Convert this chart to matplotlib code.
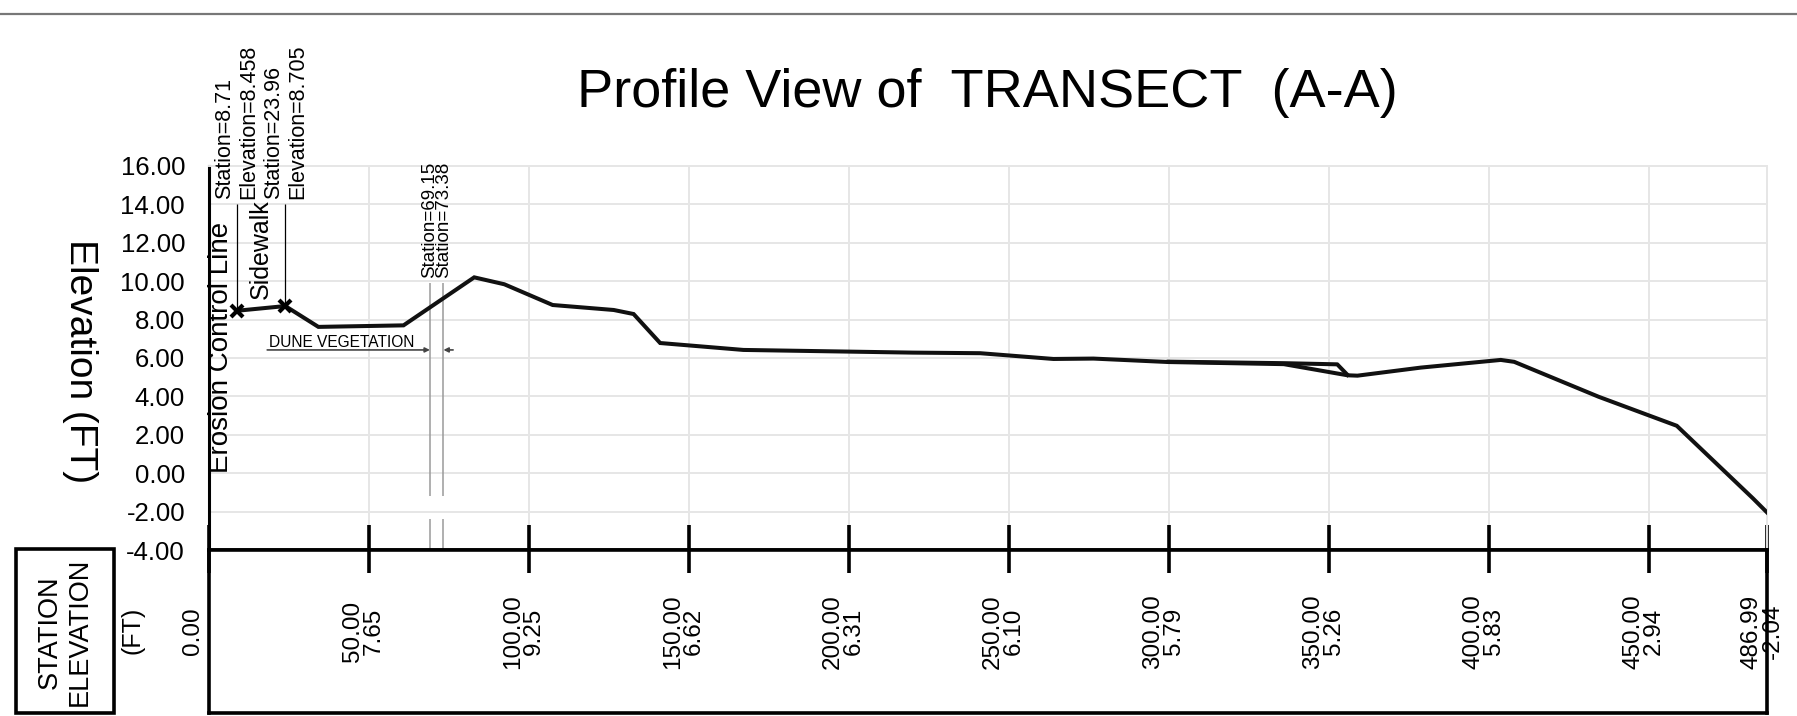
import matplotlib.pyplot as plt
import matplotlib.transforms as mtransforms
from matplotlib.patches import Rectangle
from matplotlib.lines import Line2D

plt.rcParams["font.family"] = ["Liberation Sans", "DejaVu Sans"]

# profile along the transect (station ft, elevation ft)
station = [8.71, 23.96, 34.3, 60.9, 83.0, 92.4, 107.5, 126.6, 132.8, 141.1, 167.1,
           220.1, 241.1, 264.0, 276.5, 300.0, 336.0, 355.9, 359.0, 378.8, 403.8,
           408.0, 434.4, 458.8, 482.6, 486.99]
elevation = [8.458, 8.705, 7.62, 7.70, 10.20, 9.84, 8.76, 8.50, 8.29, 6.78, 6.42,
             6.28, 6.25, 5.95, 5.97, 5.79, 5.68, 5.10, 5.08, 5.50, 5.90,
             5.80, 3.98, 2.47, -1.31, -2.04]

# short second trace near the low point at ~356 ft
sliver_station = [300.0, 336.2, 352.7, 355.9]
sliver_elevation = [5.81, 5.73, 5.67, 5.12]

# labelled points
marker_station = [8.71, 23.96]
marker_elevation = [8.458, 8.705]
dune_station = [69.15, 73.38]

# station / elevation table under the profile
table_station = [0, 50, 100, 150, 200, 250, 300, 350, 400, 450, 486.99]
table_elevation = ["", "7.65", "9.25", "6.62", "6.31", "6.10", "5.79", "5.26", "5.83", "2.94", "-2.04"]

fig = plt.figure(figsize=(17.97, 7.16), dpi=100)
ax = fig.add_axes([0.1161, 0.2318, 0.8672, 0.5364])
tb = fig.add_axes([0.1161, 0.0042, 0.8672, 0.2276])

grid_c = "#e6e6e6"
x_max = table_station[-1]

# grid
for y in range(-2, 17, 2):
    ax.axhline(y, color=grid_c, lw=1.4, zorder=0)
for x in table_station[1:]:
    ax.axvline(x, color=grid_c, lw=1.4, zorder=0)

# profile line
ax.plot(station, elevation, color="#111111", lw=2.9, solid_joinstyle="miter", zorder=3)
ax.plot(sliver_station, sliver_elevation, color="#111111", lw=2.9, zorder=3)
ax.plot(marker_station, marker_elevation, "x", color="black", ms=8.5, mew=3, zorder=4)

# leaders + point labels
ax.vlines(marker_station, marker_elevation, 14.0, color="black", lw=0.9)
ax.text(marker_station[0], 14.3, f"Station={marker_station[0]}\nElevation={marker_elevation[0]}",
        rotation=90, ha="center", va="bottom", multialignment="left", fontsize=15.5)
ax.text(marker_station[1], 14.3, f"Station={marker_station[1]}\nElevation={marker_elevation[1]}",
        rotation=90, ha="center", va="bottom", multialignment="left", fontsize=15.5)
ax.text(3.9, 0.0, "Erosion Control Line", rotation=90, ha="center", va="bottom", fontsize=20)
ax.text(16.3, 9.05, "Sidewalk", rotation=90, ha="center", va="bottom", fontsize=18)

# dune vegetation limits
ax.vlines(dune_station, 9.9, -1.2, color="#9a9a9a", lw=1.1, zorder=2)
ax.vlines(dune_station, -2.4, -4, color="#9a9a9a", lw=1.1, zorder=2)
for s in dune_station:
    ax.text(s, 10.15, f"Station={s:.2f}", rotation=90, ha="center", va="bottom", fontsize=13.5)
ax.text(19.0, 6.58, "DUNE VEGETATION", fontsize=11.2, va="baseline")
ax.annotate("", xy=(dune_station[0], 6.42), xytext=(18.3, 6.42),
            arrowprops=dict(arrowstyle="-|>", color="#444444", lw=1.2, mutation_scale=7,
                            shrinkA=0, shrinkB=0))
ax.annotate("", xy=(dune_station[1], 6.42), xytext=(76.4, 6.42),
            arrowprops=dict(arrowstyle="-|>", color="#444444", lw=1.2, mutation_scale=7,
                            shrinkA=0, shrinkB=0))

# main axes styling
ax.set_xlim(0, x_max)
ax.set_ylim(-4, 16)
ax.set_yticks(range(-4, 17, 2))
ax.set_yticklabels([f"{v:.2f}" for v in range(-4, 17, 2)], fontsize=18.5)
ax.tick_params(axis="y", length=0, pad=17)
ax.set_xticks(table_station)
ax.set_xticklabels([])
ax.tick_params(axis="x", direction="in", length=18, width=2.6, color="black")
ax.spines["left"].set_linewidth(2.2)
ax.spines["bottom"].set_linewidth(2.6)
ax.spines["top"].set_color(grid_c)
ax.spines["top"].set_linewidth(1.4)
ax.spines["right"].set_color(grid_c)
ax.spines["right"].set_linewidth(1.4)

# table
tb.set_xlim(0, x_max)
tb.set_ylim(0, 1)
tb.set_yticks([])
tb.set_xticks(table_station)
tb.set_xticklabels([])
tb.tick_params(axis="x", bottom=False, top=True, direction="in", length=16.5, width=2.6)
for side in ["left", "right", "bottom", "top"]:
    tb.spines[side].set_linewidth(2.6)
trans = mtransforms.offset_copy(mtransforms.blended_transform_factory(tb.transData, tb.transAxes),
                                fig=fig, x=-3.6, y=0, units="points")
for s, e in zip(table_station, table_elevation):
    tb.text(s, 0.5, f"{s:.2f}\n{e}", transform=trans, rotation=90, ha="center", va="center",
            multialignment="center", fontsize=17.5, linespacing=0.95)

# left header box
fig.add_artist(Rectangle((0.0089, 0.0042), 0.0545, 0.229, transform=fig.transFigure,
                         fill=False, lw=2.6, edgecolor="black"))
fig.text(0.0362, 0.1173, "STATION\nELEVATION", rotation=90, ha="center", va="center",
         multialignment="center", fontsize=19.5)
fig.text(0.0735, 0.1194, "(FT)", rotation=90, ha="center", va="center", fontsize=18)

fig.text(0.0445, 0.4958, "Elevation (FT)", rotation=270, ha="center", va="center", fontsize=28)
fig.text(0.5495, 0.851, "Profile View of  TRANSECT  (A-A)", ha="center", va="baseline", fontsize=39)

# rule at top of sheet
fig.add_artist(Line2D([0, 1], [0.981, 0.981], transform=fig.transFigure, color="#777777", lw=1.6))

plt.savefig("out.png", dpi=100)
